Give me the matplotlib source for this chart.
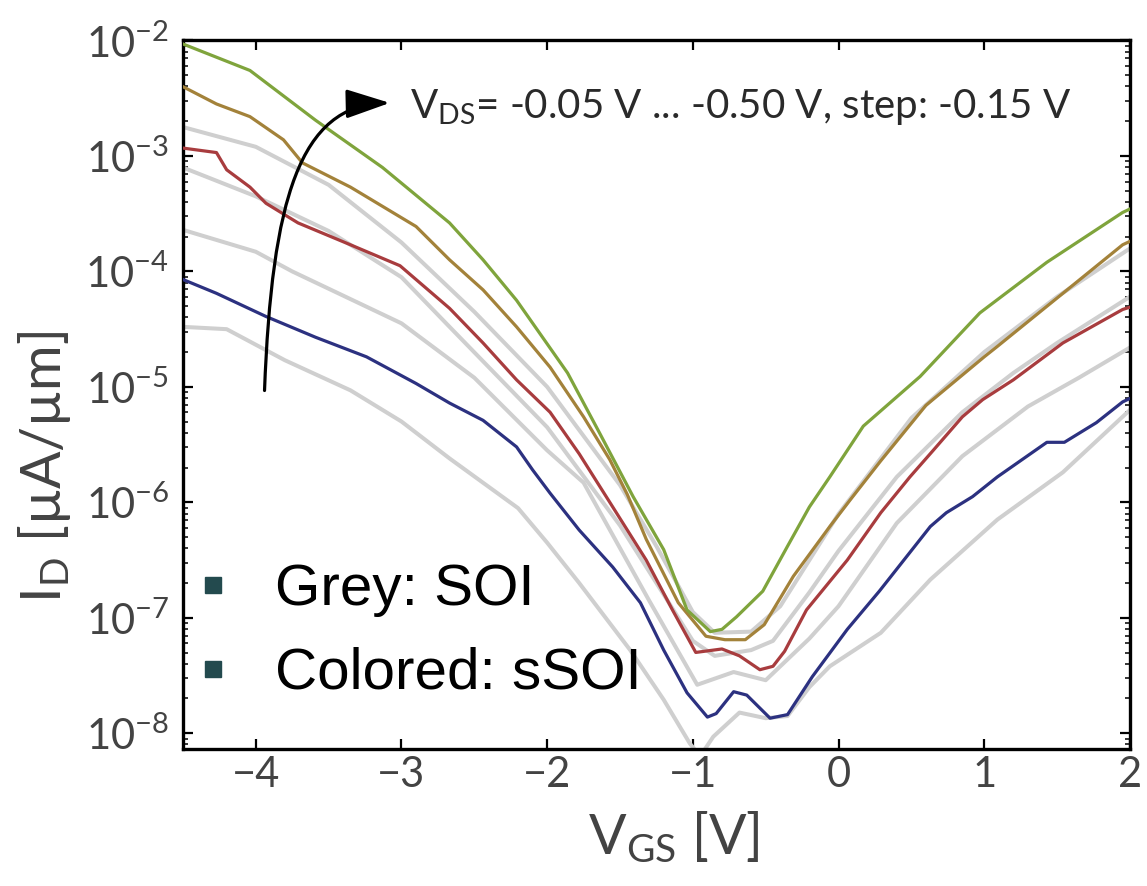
import numpy as np
import matplotlib
matplotlib.use("Agg")
import matplotlib.pyplot as plt
from matplotlib.path import Path
from matplotlib.patches import FancyArrowPatch, ArrowStyle
from matplotlib.ticker import LogLocator, NullFormatter

# ---- transfer characteristics, I_D [uA/um] versus V_GS [V] ----
# sSOI devices (coloured), V_DS = -0.50 / -0.35 / -0.20 / -0.05 V
vgs_green = [-4.5, -4.04, -3.59, -3.13, -2.67, -2.44, -2.21, -1.86, -1.64, -1.41, -1.2,
             -1.04, -0.88, -0.8, -0.7, -0.52, -0.35, -0.2, -0.06, 0.17, 0.56, 0.97,
             1.43, 1.95, 2.0]
id_green = [9.33e-3, 5.50e-3, 2.04e-3, 7.94e-4, 2.63e-4, 1.26e-4, 5.62e-5, 1.32e-5,
            3.98e-6, 1.12e-6, 3.89e-7, 1.17e-7, 7.59e-8, 7.94e-8, 1.02e-7, 1.70e-7,
            4.17e-7, 9.12e-7, 1.66e-6, 4.57e-6, 1.23e-5, 4.37e-5, 1.20e-4, 3.24e-4,
            3.47e-4]

vgs_brown = [-4.5, -4.27, -4.04, -3.81, -3.68, -3.35, -2.9, -2.67, -2.44, -2.21, -1.98,
             -1.75, -1.57, -1.45, -1.32, -1.1, -0.91, -0.78, -0.64, -0.51, -0.31, -0.06,
             0.08, 0.29, 0.6, 1.0, 1.09, 1.54, 1.95, 2.0]
id_brown = [3.98e-3, 2.82e-3, 2.19e-3, 1.38e-3, 8.71e-4, 5.37e-4, 2.45e-4, 1.26e-4,
            6.92e-5, 3.31e-5, 1.48e-5, 5.50e-6, 2.34e-6, 1.17e-6, 4.79e-7, 1.35e-7,
            6.92e-8, 6.46e-8, 6.46e-8, 8.71e-8, 2.29e-7, 6.17e-7, 1.05e-6, 2.29e-6,
            6.92e-6, 1.82e-5, 2.24e-5, 6.46e-5, 1.70e-4, 1.82e-4]

vgs_red = [-4.5, -4.27, -4.2, -4.04, -3.93, -3.71, -3.35, -3.01, -2.67, -2.44, -2.21,
           -1.98, -1.78, -1.55, -1.32, -1.14, -0.98, -0.8, -0.68, -0.54, -0.45, -0.37,
           -0.22, 0.06, 0.29, 0.49, 0.65, 0.85, 0.99, 1.2, 1.54, 1.95, 2.0]
id_red = [1.17e-3, 1.07e-3, 7.59e-4, 5.37e-4, 3.89e-4, 2.63e-4, 1.70e-4, 1.12e-4,
          4.79e-5, 2.40e-5, 1.15e-5, 6.03e-6, 2.63e-6, 9.12e-7, 3.16e-7, 1.17e-7,
          5.01e-8, 5.37e-8, 4.68e-8, 3.55e-8, 3.80e-8, 5.13e-8, 1.17e-7, 3.16e-7,
          8.13e-7, 1.66e-6, 2.82e-6, 5.50e-6, 7.76e-6, 1.15e-5, 2.40e-5, 4.68e-5,
          4.90e-5]

vgs_blue = [-4.5, -4.27, -3.93, -3.59, -3.24, -2.9, -2.67, -2.44, -2.21, -2.1, -1.98,
            -1.78, -1.55, -1.36, -1.2, -1.04, -0.9, -0.84, -0.72, -0.63, -0.47, -0.35,
            -0.18, 0.06, 0.28, 0.63, 0.74, 0.92, 1.09, 1.43, 1.55, 1.77, 1.95, 2.0]
id_blue = [8.51e-5, 6.46e-5, 4.07e-5, 2.69e-5, 1.82e-5, 1.07e-5, 7.24e-6, 5.13e-6,
           3.02e-6, 1.91e-6, 1.20e-6, 5.75e-7, 2.75e-7, 1.35e-7, 5.25e-8, 2.24e-8,
           1.38e-8, 1.48e-8, 2.29e-8, 2.14e-8, 1.35e-8, 1.45e-8, 3.09e-8, 7.94e-8,
           1.70e-7, 6.17e-7, 8.13e-7, 1.12e-6, 1.66e-6, 3.31e-6, 3.31e-6, 4.90e-6,
           7.41e-6, 7.94e-6]

# SOI reference devices (grey), same V_DS steps
vgs_soi1 = [-4.5, -4.0, -3.5, -3.0, -2.5, -2.0, -1.5, -1.25, -1.0, -0.85, -0.6,
            -0.4, -0.2, 0.0, 0.5, 1.0, 1.5, 2.0]
id_soi1 = [1.78e-3, 1.20e-3, 5.62e-4, 1.78e-4, 4.47e-5, 1.0e-5, 1.41e-6, 4.17e-7,
           1.12e-7, 7.41e-8, 7.59e-8, 1.26e-7, 3.16e-7, 7.94e-7, 5.37e-6, 2.0e-5,
           6.03e-5, 1.58e-4]

vgs_soi2 = [-4.5, -4.0, -3.5, -3.0, -2.67, -2.0, -1.5, -1.25, -1.0, -0.85, -0.6,
            -0.45, -0.2, 0.0, 0.4, 0.85, 1.2, 1.5, 2.0]
id_soi2 = [7.94e-4, 4.47e-4, 2.24e-4, 8.91e-5, 3.31e-5, 4.47e-6, 6.31e-7, 2.0e-7,
           6.31e-8, 4.68e-8, 5.25e-8, 6.31e-8, 1.66e-7, 3.80e-7, 1.66e-6, 6.03e-6,
           1.32e-5, 2.40e-5, 6.03e-5]

vgs_soi3 = [-4.5, -4.0, -3.75, -3.0, -2.5, -2.0, -1.75, -1.3, -0.97, -0.72, -0.5,
            -0.2, 0.0, 0.4, 0.85, 1.3, 1.65, 2.0]
id_soi3 = [2.29e-4, 1.48e-4, 1.0e-4, 3.55e-5, 1.20e-5, 2.82e-6, 1.48e-6, 1.41e-7,
           2.63e-8, 3.39e-8, 2.88e-8, 6.61e-8, 1.26e-7, 6.61e-7, 2.51e-6, 6.76e-6,
           1.20e-5, 2.19e-5]

vgs_soi4 = [-4.5, -4.2, -3.8, -3.35, -3.0, -2.67, -2.2, -2.0, -1.78, -1.43, -1.2,
            -1.02, -0.95, -0.86, -0.68, -0.5, -0.35, -0.2, -0.06, 0.29, 0.63, 1.09,
            1.54, 2.0]
id_soi4 = [3.31e-5, 3.16e-5, 1.70e-5, 9.33e-6, 5.01e-6, 2.40e-6, 8.91e-7, 4.47e-7,
           2.0e-7, 5.25e-8, 1.95e-8, 8.13e-9, 6.31e-9, 9.33e-9, 1.51e-8, 1.35e-8,
           1.41e-8, 2.51e-8, 3.80e-8, 7.41e-8, 2.14e-7, 7.08e-7, 1.82e-6, 6.31e-6]

xticks = [-4, -3, -2, -1, 0, 1, 2]
yticks = [1e-8, 1e-7, 1e-6, 1e-5, 1e-4, 1e-3, 1e-2]
legend_labels = ["Grey: SOI", "Colored: sSOI"]
vds_note = r"$\mathrm{V_{DS}}$= -0.05 V ... -0.50 V, step: -0.15 V"

# ---- styling ----
plt.rcParams["font.family"] = ["Lato", "DejaVu Sans"]
plt.rcParams["mathtext.fontset"] = "custom"
plt.rcParams["mathtext.rm"] = "Lato"
plt.rcParams["mathtext.it"] = "Lato:italic"
plt.rcParams["mathtext.bf"] = "Lato:bold"

grey_line = "#cfcfcf"
text_grey = "#434343"
colors = {"green": "#7fa43c", "brown": "#a3823a", "red": "#a83c3e", "blue": "#2c3180"}

fig = plt.figure(figsize=(11.47, 8.86), dpi=100)
ax = fig.add_axes([0.1595, 0.1546, 0.8256, 0.7997])

for xs, ys in [(vgs_soi1, id_soi1), (vgs_soi2, id_soi2),
               (vgs_soi3, id_soi3), (vgs_soi4, id_soi4)]:
    ax.plot(xs, ys, color=grey_line, lw=2.9, solid_joinstyle="round",
            solid_capstyle="round", zorder=2)

for xs, ys, c in [(vgs_blue, id_blue, colors["blue"]), (vgs_red, id_red, colors["red"]),
                  (vgs_brown, id_brown, colors["brown"]), (vgs_green, id_green, colors["green"])]:
    ax.plot(xs, ys, color=c, lw=2.3, solid_joinstyle="round", zorder=3)

ax.set_yscale("log")
ax.set_xlim(-4.5, 2)
ax.set_ylim(7.3e-9, 1e-2)
ax.set_xticks(xticks)
ax.set_yticks(yticks)
ax.yaxis.set_minor_locator(LogLocator(base=10, subs=np.arange(2, 10), numticks=20))
ax.yaxis.set_minor_formatter(NullFormatter())

for s in ax.spines.values():
    s.set_linewidth(2.4)
ax.tick_params(which="both", direction="in", top=True, right=True, color="black")
ax.tick_params(which="major", length=7, width=1.6, labelsize=30, labelcolor=text_grey)
ax.tick_params(which="minor", length=3.5, width=1.1)
ax.tick_params(axis="x", which="major", pad=5)
ax.tick_params(axis="y", which="major", pad=10)

ax.set_xlabel(r"$\mathrm{V_{GS}}$ [V]", fontsize=40, color=text_grey)
ax.set_ylabel(r"$\mathrm{I_{D}}$ [µA/µm]", fontsize=40, color=text_grey)
ax.xaxis.set_label_coords(0.518, -0.085)
ax.yaxis.set_label_coords(-0.116, 0.398)

# curved arrow showing the V_DS sweep direction
arrow_path = Path([(-3.94, 9.3e-6), (-3.89, 4.16e-4), (-3.70, 2.77e-3), (-3.08, 2.88e-3)],
                  [Path.MOVETO, Path.CURVE4, Path.CURVE4, Path.CURVE4])
arrow = FancyArrowPatch(path=arrow_path,
                        arrowstyle=ArrowStyle("-|>", head_length=0.6, head_width=0.2),
                        mutation_scale=45, lw=2.3, color="black",
                        transform=ax.transData, zorder=5)
ax.add_patch(arrow)
ax.text(0.2397, 0.8906, vds_note, transform=ax.transAxes, fontsize=29,
        color="#2a2a2a", ha="left", va="baseline", zorder=6)

# bullet-style key
for lbl, ym, yt in zip(legend_labels, [0.2315, 0.1129], [0.2032, 0.0861]):
    ax.plot([0.0317], [ym], marker="s", ms=11.5, color="#234a4e", ls="none",
            transform=ax.transAxes, zorder=6)
    ax.text(0.0971, yt, lbl, transform=ax.transAxes, fontsize=42,
            family=["Liberation Sans", "DejaVu Sans"], color="black",
            ha="left", va="baseline", zorder=6)

fig.savefig("out.png", dpi=100)
